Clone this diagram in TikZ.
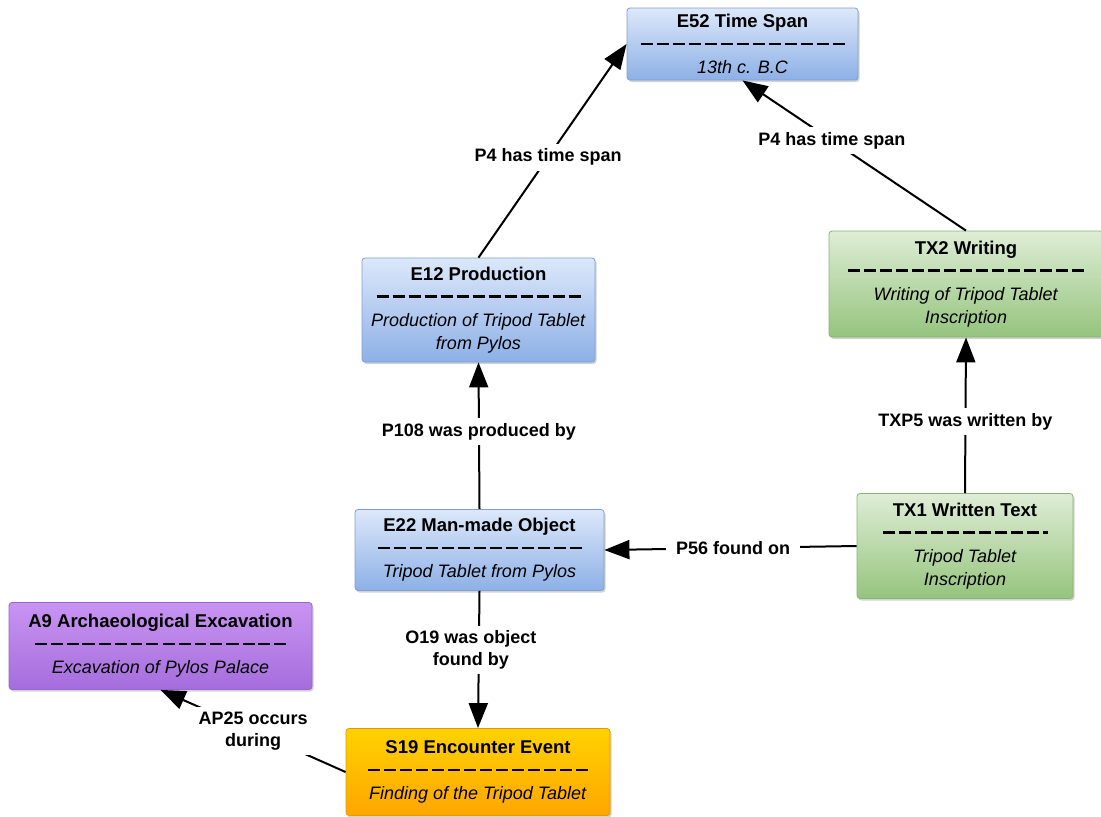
\documentclass[tikz,border=0pt]{standalone}
\usepackage{fontspec}
\setmainfont{Liberation Sans}
\usetikzlibrary{arrows.meta,shadows}
\definecolor{bluetop}{HTML}{DCE8FA}
\definecolor{bluebot}{HTML}{8DB0E6}
\definecolor{blueline}{HTML}{7F9FD0}
\definecolor{greentop}{HTML}{DFEDD6}
\definecolor{greenbot}{HTML}{95C47D}
\definecolor{greenline}{HTML}{86B571}
\definecolor{purptop}{HTML}{C894F2}
\definecolor{purpbot}{HTML}{A56DDC}
\definecolor{purpline}{HTML}{9A64CC}
\definecolor{orantop}{HTML}{FFD200}
\definecolor{oranbot}{HTML}{FFA600}
\definecolor{oranline}{HTML}{E39A00}
\newcommand\dashrow[1]{\rule[0.3em]{12pt}{2.5pt}\foreach \i in {2,...,#1}{\hspace{4pt}\rule[0.3em]{12pt}{2.5pt}}}
\newcommand\ttl[1]{{\fontsize{18.5}{23}\selectfont\bfseries #1}}
\tikzset{
  box/.style={rectangle, rounded corners=3pt, draw, line width=0.8pt, align=center,
    font=\fontsize{18}{23}\selectfont, inner sep=0pt,
    drop shadow={opacity=0.35, shadow xshift=1.5pt, shadow yshift=-2pt}},
  bluebox/.style={box, draw=blueline, top color=bluetop, bottom color=bluebot},
  greenbox/.style={box, draw=greenline, top color=greentop, bottom color=greenbot},
  purpbox/.style={box, draw=purpline, top color=purptop, bottom color=purpbot},
  oranbox/.style={box, draw=oranline, top color=orantop, bottom color=oranbot},
  link/.style={line width=2pt, -{Triangle[length=25pt,width=19pt]}},
  lbl/.style={fill=white, inner xsep=10pt, inner ysep=5pt, align=center, font=\fontsize{18}{22}\selectfont\bfseries}
}
\begin{document}
\begin{tikzpicture}[x=1pt,y=-1pt]
\useasboundingbox (0,0) rectangle (1101,817);
\begin{scope}
\clip (0,0) rectangle (1101,817);
\node[bluebox, minimum width=231pt, minimum height=72pt] (e52) at (742.5,44)
  {\ttl{E52 Time Span}\\\dashrow{13}\\\textit{13th c. B.C}};
\node[bluebox, minimum width=233pt, minimum height=104pt] (e12) at (478.5,310)
  {\ttl{E12 Production}\\\dashrow{13}\\\textit{Production of Tripod Tablet}\\\textit{from Pylos}};
\node[greenbox, minimum width=274pt, minimum height=106pt] (tx2) at (966,284)
  {\ttl{TX2 Writing}\\\dashrow{15}\\\textit{Writing of Tripod Tablet}\\\textit{Inscription}};
\node[bluebox, minimum width=249pt, minimum height=81pt] (e22) at (479.5,550)
  {\ttl{E22 Man-made Object}\\\dashrow{13}\\\textit{Tripod Tablet from Pylos}};
\node[greenbox, minimum width=216pt, minimum height=105pt] (tx1) at (965,546)
  {\ttl{TX1 Written Text}\\\dashrow{10}\hspace{4pt}\rule[0.3em]{5pt}{2.5pt}\\\textit{Tripod Tablet}\\\textit{Inscription}};
\node[purpbox, minimum width=303pt, minimum height=87pt] (a9) at (160.5,646)
  {\ttl{A9 Archaeological Excavation}\\\dashrow{16}\\\textit{Excavation of Pylos Palace}};
\node[oranbox, minimum width=264pt, minimum height=87pt] (s19) at (478,772)
  {\ttl{S19 Encounter Event}\\\dashrow{14}\\\textit{Finding of the Tripod Tablet}};

\draw[link] (e12.north) -- node[lbl, pos=0.47] {P4 has time span} (e52.west);
\draw[link] (tx2.north) -- node[lbl, pos=0.6] {P4 has time span} (e52.south);
\draw[link] (e22.north) -- node[lbl, pos=0.53] {P108 was produced by} (e12.south);
\draw[link] (tx1.north) -- node[lbl, pos=0.46] {TXP5 was written by} (tx2.south);
\draw[link] (tx1.west) -- node[lbl, pos=0.49] {P56 found on} (e22.east);
\draw[link] (e22.south) -- node[lbl, pos=0.43, xshift=-8pt] {O19 was object\\found by} (s19.north);
\draw[link] (s19.west) -- node[lbl, pos=0.5] {AP25 occurs\\during} (a9.south);
\end{scope}
\end{tikzpicture}
\end{document}
